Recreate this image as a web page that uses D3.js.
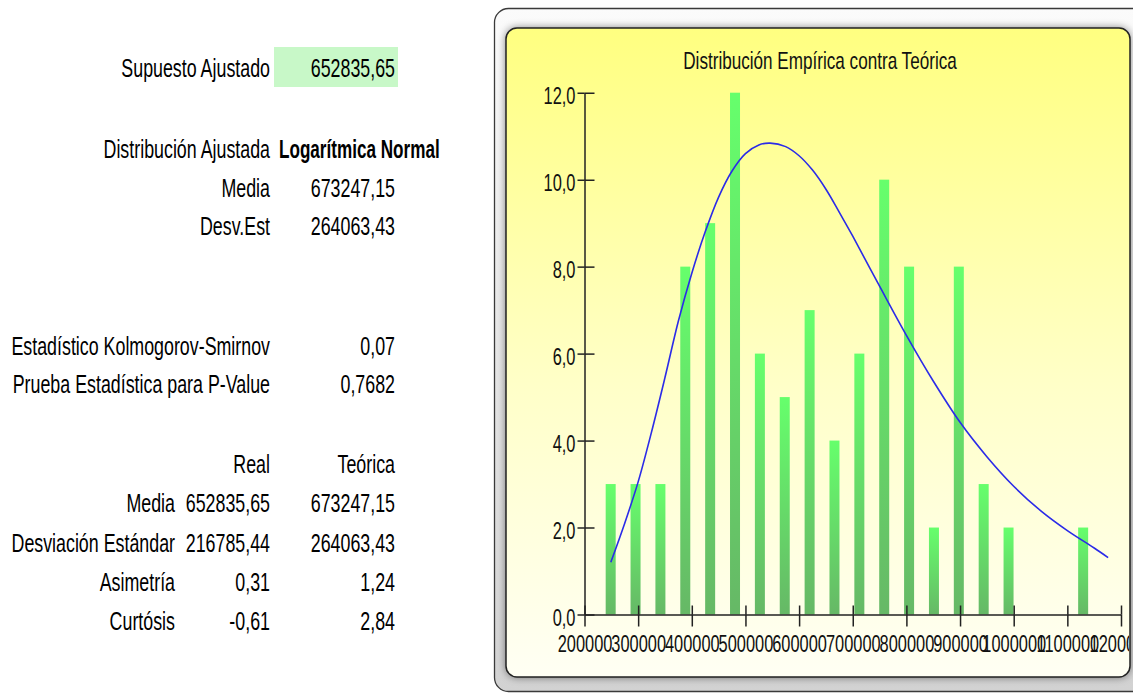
<!DOCTYPE html>
<html>
<head>
<meta charset="utf-8">
<script src="https://cdn.jsdelivr.net/npm/d3@7"></script>
<style>
  html, body { margin: 0; padding: 0; background: #fff; overflow: hidden; }
  svg { display: block; }
</style>
</head>
<body>
<svg id="chart" width="1133" height="693"></svg>
<script>
// ---- histogram: bin centres and observed frequencies ----
const binCenters = [248800, 295150, 341500, 387850, 434200, 480550, 526900, 573250, 619600, 665950,
                    712300, 758650, 805000, 851350, 897700, 944050, 990400, 1036750, 1083100, 1129450];
const counts     = [3, 3, 3, 8, 9, 12, 6, 5, 7, 4, 6, 10, 8, 2, 8, 3, 2, 0, 0, 2];

// ---- fitted log-normal density, expressed in frequency units ----
const fitX = [249000, 275000, 300000, 325000, 350000, 375000, 400000, 425000, 450000, 475000,
              500000, 525000, 546000, 575000, 600000, 625000, 650000, 675000, 700000, 750000,
              800000, 850000, 900000, 950000, 1000000, 1050000, 1100000, 1150000, 1176000];
const fitY = [1.2, 2.1, 3.05, 4.2, 5.45, 6.75, 7.85, 8.8, 9.6, 10.2,
              10.6, 10.8, 10.84, 10.76, 10.55, 10.22, 9.78, 9.25, 8.7, 7.55,
              6.42, 5.37, 4.42, 3.63, 2.95, 2.39, 1.93, 1.53, 1.31];

// ---- axis ticks ----
const xTicks = [200000, 300000, 400000, 500000, 600000, 700000, 800000, 900000, 1000000, 1100000, 1200000];
const yTicks = [0, 2, 4, 6, 8, 10, 12];

// ---- summary table ----
const adjustedLabel = "Supuesto Ajustado";
const adjustedValue = "652835,65";
const fitLabels = ["Distribución Ajustada", "Media", "Desv.Est"];
const fitValues = ["Logarítmica Normal", "673247,15", "264063,43"];
const testLabels = ["Estadístico Kolmogorov-Smirnov", "Prueba Estadística para P-Value"];
const testValues = ["0,07", "0,7682"];
const compareHeads = ["Real", "Teórica"];
const compareLabels = ["Media", "Desviación Estándar", "Asimetría", "Curtósis"];
const realValues = ["652835,65", "216785,44", "0,31", "-0,61"];
const theoValues = ["673247,15", "264063,43", "1,24", "2,84"];
const chartTitle = "Distribución Empírica contra Teórica";

const svg = d3.select("#chart");
const defs = svg.append("defs");

// Use a condensed face when present, otherwise compress the regular one.
function probe(fam) {
  const t = svg.append("text").attr("font-family", fam).attr("font-size", 100).text("Distribución Empírica");
  const w = t.node().getComputedTextLength();
  t.remove();
  return w;
}
const wNarrow = probe("'Liberation Sans Narrow'");
const wRegular = probe("'Liberation Sans'");
const hasNarrow = wNarrow < wRegular * 0.92;
const FONT = hasNarrow ? "'Liberation Sans Narrow', 'Liberation Sans', Arial, sans-serif"
                       : "'Liberation Sans', Arial, sans-serif";
const SX = hasNarrow ? 0.87 : 0.87 * 0.82;

function label(parent, x, y, s, opt = {}) {
  const sx = SX * (opt.squeeze || 1);
  return parent.append("text")
    .attr("transform", `translate(${x},${y}) scale(${sx},1)`)
    .attr("text-anchor", opt.anchor || "end")
    .attr("font-family", FONT)
    .attr("font-size", opt.size || 25)
    .attr("font-weight", opt.weight || "normal")
    .attr("fill", opt.fill || "#000")
    .text(s);
}

// ================= summary table =================
const tbl = svg.append("g");
tbl.append("rect").attr("x", 274).attr("y", 47).attr("width", 124).attr("height", 40).attr("fill", "#c8f8c8");
label(tbl, 270, 77, adjustedLabel);
label(tbl, 395, 77, adjustedValue);

const fitRowsY = [158, 196.5, 235];
fitLabels.forEach((s, i) => label(tbl, 270, fitRowsY[i], s));
label(tbl, 279, fitRowsY[0], fitValues[0], { anchor: "start", weight: "bold", squeeze: 0.96 });
label(tbl, 395, fitRowsY[1], fitValues[1]);
label(tbl, 395, fitRowsY[2], fitValues[2]);

const testRowsY = [355, 393];
testLabels.forEach((s, i) => {
  label(tbl, 270, testRowsY[i], s);
  label(tbl, 395, testRowsY[i], testValues[i]);
});

label(tbl, 270, 473, compareHeads[0]);
label(tbl, 395, 473, compareHeads[1]);
const cmpRowsY = [512, 552, 591, 630];
compareLabels.forEach((s, i) => {
  label(tbl, 175, cmpRowsY[i], s);
  label(tbl, 270, cmpRowsY[i], realValues[i]);
  label(tbl, 395, cmpRowsY[i], theoValues[i]);
});

// ================= chart frame =================
const frameGrad = defs.append("linearGradient").attr("id", "frameFill").attr("x1", 0).attr("y1", 0).attr("x2", 0).attr("y2", 1);
frameGrad.append("stop").attr("offset", "0%").attr("stop-color", "#fbfbfb");
frameGrad.append("stop").attr("offset", "100%").attr("stop-color", "#d2d2d2");

const panelGrad = defs.append("linearGradient").attr("id", "panelFill").attr("x1", 0).attr("y1", 0).attr("x2", 0).attr("y2", 1);
panelGrad.append("stop").attr("offset", "0%").attr("stop-color", "#ffff80");
panelGrad.append("stop").attr("offset", "55%").attr("stop-color", "#ffffc8");
panelGrad.append("stop").attr("offset", "100%").attr("stop-color", "#fffff4");

const glow = defs.append("filter").attr("id", "panelShadow").attr("x", "-5%").attr("y", "-5%").attr("width", "110%").attr("height", "110%");
glow.append("feGaussianBlur").attr("in", "SourceAlpha").attr("stdDeviation", 4).attr("result", "b");
glow.append("feComponentTransfer").attr("in", "b").attr("result", "s")
  .append("feFuncA").attr("type", "linear").attr("slope", 0.55);

const panel = { x: 506, y: 28, w: 624, h: 649, r: 11 };

svg.append("rect").attr("x", 494.5).attr("y", 8.5).attr("width", 660).attr("height", 683)
  .attr("rx", 14).attr("fill", "url(#frameFill)").attr("stroke", "#3a3a3a").attr("stroke-width", 1.3);
svg.append("rect").attr("x", panel.x).attr("y", panel.y).attr("width", panel.w).attr("height", panel.h)
  .attr("rx", panel.r).attr("fill", "#000").attr("filter", "url(#panelShadow)");
svg.append("rect").attr("x", panel.x).attr("y", panel.y).attr("width", panel.w).attr("height", panel.h)
  .attr("rx", panel.r).attr("fill", "url(#panelFill)").attr("stroke", "#222").attr("stroke-width", 1.5);

defs.append("clipPath").attr("id", "panelClip").append("rect")
  .attr("x", panel.x + 1).attr("y", panel.y + 1).attr("width", panel.w - 2).attr("height", panel.h - 2).attr("rx", panel.r);

const plot = svg.append("g").attr("clip-path", "url(#panelClip)");

label(plot, 820, 69, chartTitle, { anchor: "middle", size: 24, fill: "#111" });

// ================= scales =================
const x = d3.scaleLinear().domain([200000, 1200000]).range([584.5, 1121]);
const y = d3.scaleLinear().domain([0, 12]).range([614.5, 92.7]);

// ================= bars =================
const barGrad = defs.append("linearGradient").attr("id", "barFill").attr("x1", 0).attr("y1", 0).attr("x2", 0).attr("y2", 1);
barGrad.append("stop").attr("offset", "0%").attr("stop-color", "#66ff6c");
barGrad.append("stop").attr("offset", "100%").attr("stop-color", "#66b866");

const barW = 10;
plot.append("g").selectAll("rect").data(binCenters.map((c, i) => ({ c, n: counts[i] })).filter(d => d.n > 0))
  .join("rect")
  .attr("x", d => x(d.c) - barW / 2)
  .attr("y", d => y(d.n))
  .attr("width", barW)
  .attr("height", d => y(0) - y(d.n))
  .attr("fill", "url(#barFill)");

// ================= fitted curve =================
const line = d3.line().x(d => x(d[0])).y(d => y(d[1])).curve(d3.curveCatmullRom.alpha(0.5));
plot.append("path").datum(fitX.map((v, i) => [v, fitY[i]]))
  .attr("d", line).attr("fill", "none").attr("stroke", "#2b2be8").attr("stroke-width", 1.6);

// ================= axes =================
const comma = d3.formatLocale({ decimal: ",", thousands: ".", grouping: [3], currency: ["", ""] });
const fmtY = comma.format(".1f");
const fmtX = d3.format("d");

const yAxis = plot.append("g").attr("transform", `translate(${x(200000)},0)`)
  .call(d3.axisLeft(y).tickValues(yTicks).tickFormat(fmtY).tickSizeInner(7).tickSizeOuter(0));
yAxis.select(".domain").attr("stroke", "#222").attr("stroke-width", 1.5);
yAxis.selectAll(".tick line").attr("stroke", "#222").attr("stroke-width", 1.5);
yAxis.selectAll(".tick").append("line").attr("x1", 0).attr("x2", 10).attr("stroke", "#222").attr("stroke-width", 1.5);
yAxis.selectAll(".tick text")
  .attr("x", null).attr("dy", null)
  .attr("transform", `translate(-9,11) scale(${SX},1)`)
  .attr("font-family", FONT).attr("font-size", 23).attr("fill", "#111");

const xAxis = plot.append("g").attr("transform", `translate(0,${y(0)})`)
  .call(d3.axisBottom(x).tickValues(xTicks).tickFormat(fmtX).tickSizeInner(12).tickSizeOuter(0));
xAxis.select(".domain").attr("stroke", "#222").attr("stroke-width", 1.5);
xAxis.selectAll(".tick line").attr("stroke", "#222").attr("stroke-width", 1.5);
xAxis.selectAll(".tick").append("line").attr("y1", 0).attr("y2", -9).attr("stroke", "#222").attr("stroke-width", 1.5);
xAxis.selectAll(".tick text")
  .attr("y", null).attr("dy", null)
  .attr("transform", `translate(0,37) scale(${SX},1)`)
  .attr("font-family", FONT).attr("font-size", 23).attr("fill", "#111");
yAxis.attr("font-family", null); xAxis.attr("font-family", null);
</script>
</body>
</html>
